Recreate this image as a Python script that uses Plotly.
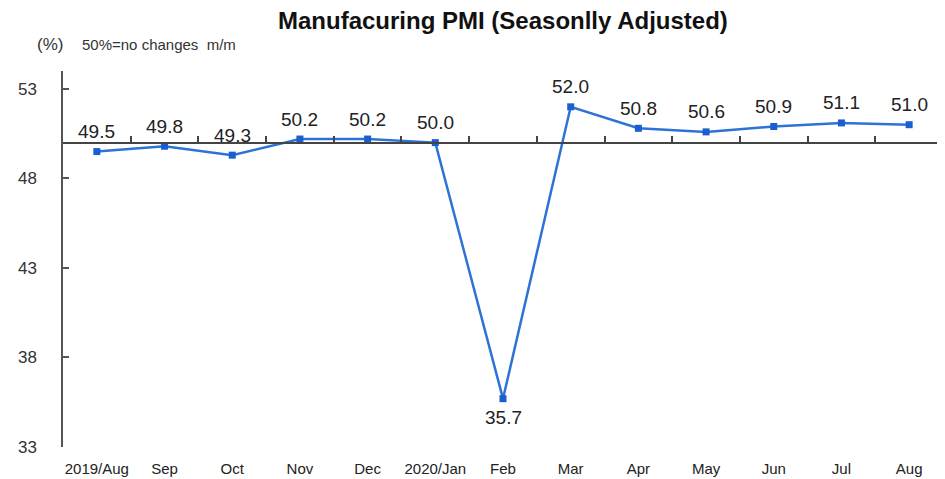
import plotly.graph_objects as go

months = ["2019/Aug", "Sep", "Oct", "Nov", "Dec", "2020/Jan", "Feb",
          "Mar", "Apr", "May", "Jun", "Jul", "Aug"]
pmi = [49.5, 49.8, 49.3, 50.2, 50.2, 50.0, 35.7, 52.0, 50.8, 50.6, 50.9, 51.1, 51.0]
y_ticks = [33, 38, 43, 48, 53]
baseline = 50
y_min, y_max = 33, 54

n = len(months)
xs = list(range(n))
boundaries = [i - 0.5 for i in range(n + 1)]

fig = go.Figure()
fig.add_trace(go.Scatter(
    x=xs, y=pmi, mode="lines+markers",
    line=dict(color="#2F72D6", width=2.5),
    marker=dict(symbol="square", size=7, color="#1A5FD0"),
    hoverinfo="x+y", showlegend=False,
))
# invisible trace to carry the baseline axis
fig.add_trace(go.Scatter(
    x=xs, y=pmi, xaxis="x2", mode="lines",
    line=dict(width=0), opacity=0, hoverinfo="skip", showlegend=False,
))

for x, v in zip(xs, pmi):
    below = v < 40
    fig.add_annotation(
        x=x, y=v, text=f"{v:.1f}", showarrow=False,
        yshift=-19 if below else 20,
        font=dict(family="Liberation Sans, Arial", size=19, color="#222"),
    )

fig.add_annotation(
    xref="paper", yref="paper", x=0.5, y=1, yanchor="middle", yshift=51,
    text="<b>Manufacuring PMI (Seasonlly Adjusted)</b>", showarrow=False,
    font=dict(family="Liberation Sans, Arial", size=24, color="#111"),
)
fig.add_annotation(
    xref="paper", yref="paper", x=-0.0148, y=1, xanchor="center", yanchor="middle", yshift=27,
    text="(%)", showarrow=False,
    font=dict(family="Liberation Sans, Arial", size=17, color="#333"),
)
fig.add_annotation(
    xref="paper", yref="paper", x=0.019, y=1, xanchor="left", yanchor="middle", yshift=27,
    text="50%=no changes  m/m", showarrow=False,
    font=dict(family="Liberation Sans Narrow, Liberation Sans, Arial", size=15, color="#333"),
)

fig.update_layout(
    width=937, height=471,
    margin=dict(l=55, r=2, t=63, b=32),
    paper_bgcolor="white", plot_bgcolor="white",
    xaxis=dict(
        range=[-0.5, n - 0.5], tickvals=xs, ticktext=months,
        showline=False, showgrid=False, zeroline=False, ticks="",
        ticklabelstandoff=11, automargin=False,
        tickfont=dict(family="Liberation Sans Narrow, Liberation Sans, Arial", size=15, color="#222"),
    ),
    xaxis2=dict(
        overlaying="x", anchor="free",
        position=(baseline - y_min) / (y_max - y_min),
        range=[-0.5, n - 0.5], tickvals=boundaries,
        showticklabels=False, showline=True, linecolor="#444", linewidth=1.5,
        ticks="inside", ticklen=6, tickwidth=1.5, tickcolor="#444",
        showgrid=False, zeroline=False, automargin=False,
    ),
    yaxis=dict(
        range=[y_min, y_max], tickvals=y_ticks,
        showline=True, linecolor="#555", linewidth=1.5,
        ticks="inside", ticklen=6, tickwidth=1.5, tickcolor="#555",
        showgrid=False, zeroline=False, ticklabelstandoff=21, automargin=False,
        tickfont=dict(family="Liberation Sans, Arial", size=17, color="#333"),
    ),
)

fig.write_html("out.html")
